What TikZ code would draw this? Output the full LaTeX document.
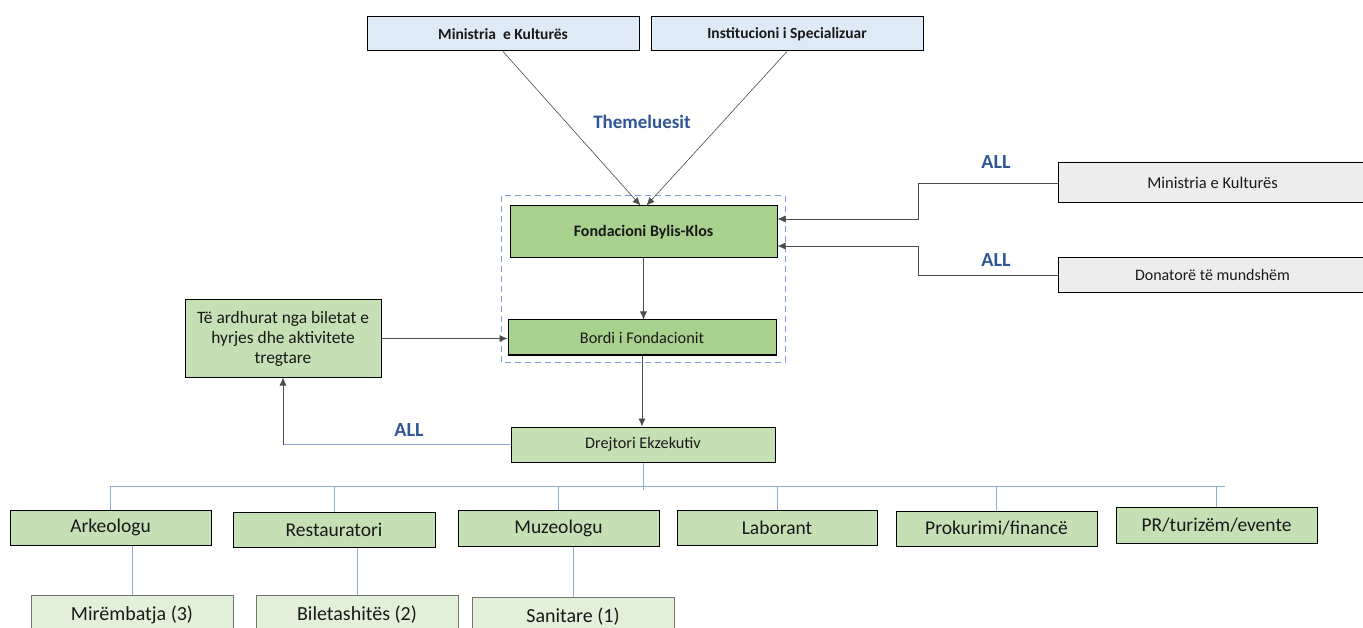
\documentclass[tikz,border=0pt]{standalone}
\usepackage{fontspec}
\setmainfont{Carlito}
\usetikzlibrary{arrows.meta}

\definecolor{blutop}{HTML}{DEEBF7}
\definecolor{jeshiler}{HTML}{A9D18E}
\definecolor{jeshile}{HTML}{C5E0B4}
\definecolor{jeshzbeh}{HTML}{E2F0D9}
\definecolor{hiri}{HTML}{EDEDED}
\definecolor{etiketa}{HTML}{2F5597}
\definecolor{vijeblu}{HTML}{8FAADC}

\begin{document}
\begin{tikzpicture}[x=1pt, y=-1pt,
    kuti/.style={draw=black, line width=1pt, inner sep=0pt, minimum height=35pt, align=center, text=black!90},
    shigjete/.style={draw=black!70, line width=0.6pt, -{Latex[length=8pt,width=7pt]}},
    vijeblu/.style={draw=vijeblu, line width=0.8pt},
    all/.style={text=etiketa, font=\fontsize{20}{24}\selectfont\bfseries}]
    \clip (0,0) rectangle (1363,628);
    \fill[white] (0,0) rectangle (1363,628);

    % Themeluesit
    \node[kuti, fill=blutop, minimum width=272pt, minimum height=34pt, font=\fontsize{15.5}{18}\selectfont\bfseries] (minK) at (503,34) {Ministria\ \ e Kulturës};
    \node[kuti, fill=blutop, minimum width=272pt, minimum height=34pt, font=\fontsize{15.5}{18}\selectfont\bfseries] (inst) at (787,34) {Institucioni i Specializuar};
    \node[all, font=\fontsize{19}{22}\selectfont\bfseries] (them) at (642,122) {Themeluesit};

    % Fondacioni dhe bordi
    \draw[draw=vijeblu!90!blue, dashed, dash pattern=on 6pt off 4pt, line width=1pt] (501,196) rectangle (785,362);
    \node[kuti, fill=jeshiler, minimum width=267pt, minimum height=52pt, font=\fontsize{16}{18}\selectfont\bfseries] (fond) at (643.5,232) {Fondacioni Bylis-Klos};
    \node[kuti, fill=jeshiler, minimum width=268pt, font=\fontsize{16.3}{18}\selectfont] (bord) at (642,337.5) {Bordi i Fondacionit};
    \node[kuti, fill=jeshile, minimum width=264pt, font=\fontsize{16.2}{18}\selectfont] (drej) at (643,444.5) {Drejtori Ekzekutiv};
    \node[kuti, fill=jeshile, minimum width=196pt, minimum height=77pt, font=\fontsize{17.4}{20}\selectfont] (tea) at (283,338.5) {Të ardhurat nga biletat e\\hyrjes dhe aktivitete\\tregtare};

    % Financimi
    \node[kuti, fill=hiri, minimum width=322pt, minimum height=40pt, anchor=west, font=\fontsize{16.5}{18}\selectfont] (mkR) at (1058,183) {\hspace*{-14pt}Ministria e Kulturës};
    \node[kuti, fill=hiri, minimum width=322pt, anchor=west, font=\fontsize{16}{18}\selectfont] (don) at (1058,275.5) {\hspace*{-14pt}Donatorë të mundshëm};
    \node[all] (all1) at (996,162) {ALL};
    \node[all] (all2) at (996,260) {ALL};
    \node[all] (all3) at (409,430) {ALL};

    % Lidhjet
    \draw[shigjete] (minK.south) -- ([xshift=-3pt]fond.north);
    \draw[shigjete] (inst.south) -- ([xshift=3pt]fond.north);
    \draw[shigjete] (fond.south) -- (fond.south |- bord.north);
    \draw[shigjete] (bord.south) -- (bord.south |- drej.north);
    \draw[shigjete] (tea.east) -- (tea.east -| bord.west);
    \draw[shigjete] (mkR.west) -- ++(-140,0) |- ([yshift=13pt]fond.east);
    \draw[shigjete] (don.west) -- ++(-140,0) |- ([yshift=-14pt]fond.east);
    \coordinate (kthese) at (drej.west -| tea.south);
    \draw[vijeblu] (drej.west) -- (kthese);
    \draw[shigjete] (kthese) -- (tea.south);

    % Stafi
    \node[kuti, fill=jeshile, minimum width=201pt, font=\fontsize{19.5}{22}\selectfont] (ark) at (110.5,527.5) {Arkeologu};
    \node[kuti, fill=jeshile, minimum width=202pt, font=\fontsize{19.5}{22}\selectfont] (res) at (334,529.5) {Restauratori};
    \node[kuti, fill=jeshile, minimum width=201pt, minimum height=36pt, font=\fontsize{19.5}{22}\selectfont] (muz) at (558.5,528) {Muzeologu};
    \node[kuti, fill=jeshile, minimum width=200pt, font=\fontsize{19.5}{22}\selectfont] (lab) at (777,527.5) {Laborant};
    \node[kuti, fill=jeshile, minimum width=201pt, font=\fontsize{19.5}{22}\selectfont] (pro) at (996.5,528.5) {Prokurimi/financë};
    \node[kuti, fill=jeshile, minimum width=201pt, minimum height=36pt, font=\fontsize{19.5}{22}\selectfont] (prt) at (1216.5,525) {PR/turizëm/evente};

    \coordinate (bus) at (0,486);
    \draw[vijeblu] (ark.north |- bus) -- ([xshift=8pt]prt.north |- bus);
    \draw[vijeblu] (drej.south) -- ([yshift=-4pt]drej.south |- bus);
    \foreach \n in {ark,res,muz,lab,pro,prt}
        \draw[vijeblu] (\n.north) -- (\n.north |- bus);

    % Nen stafi
    \node[kuti, draw=black!55, line width=0.6pt, fill=jeshzbeh, minimum width=202pt, minimum height=40pt, font=\fontsize{20}{22}\selectfont] (mir) at (132,615) {Mirëmbatja (3)};
    \node[kuti, draw=black!55, line width=0.6pt, fill=jeshzbeh, minimum width=202pt, minimum height=40pt, font=\fontsize{20}{22}\selectfont] (bil) at (357,615) {Biletashitës (2)};
    \node[kuti, draw=black!55, line width=0.6pt, fill=jeshzbeh, minimum width=202pt, minimum height=40pt, font=\fontsize{20}{22}\selectfont] (san) at (573,617) {Sanitare (1)};
    \draw[vijeblu] (mir.north) -- (mir.north |- ark.south);
    \draw[vijeblu] (bil.north) -- (bil.north |- res.south);
    \draw[vijeblu] (san.north) -- (san.north |- muz.south);
\end{tikzpicture}
\end{document}
